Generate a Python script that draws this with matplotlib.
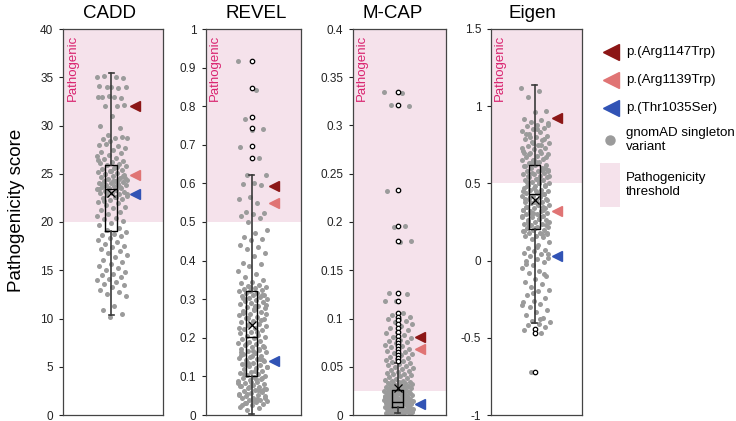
import numpy as np
import matplotlib
matplotlib.use('Agg')
import matplotlib.pyplot as plt
from matplotlib.patches import Rectangle
from matplotlib.ticker import FuncFormatter, MultipleLocator

plt.rcParams['font.family'] = ['Liberation Sans', 'DejaVu Sans']

# ---------------- data ----------------
panel_titles = ['CADD', 'REVEL', 'M-CAP', 'Eigen']
y_limits = [(0, 40), (0, 1), (0, 0.4), (-1, 1.5)]
tick_steps = [5, 0.1, 0.05, 0.5]
thresholds = [20, 0.5, 0.025, 0.5]

variant_labels = ['p.(Arg1147Trp)', 'p.(Arg1139Trp)', 'p.(Thr1035Ser)']
cadd_variants = [32.0, 24.9, 22.9]
revel_variants = [0.592, 0.548, 0.140]
mcap_variants = [0.081, 0.068, 0.011]
eigen_variants = [0.921, 0.323, 0.030]

cadd_scores = [
    35.0, 35.0, 35.1, 34.9, 34.0, 34.1, 33.9, 34.0, 34.0,
    33.0, 33.0, 32.9, 33.1, 33.0, 32.0, 32.0, 32.1, 31.0, 30.0, 29.7, 29.0,
    28.7, 28.7, 28.6, 28.8, 28.4, 28.0, 27.9, 28.1,
    27.7, 27.5, 27.3, 27.1, 26.9, 26.8, 26.6, 26.5, 26.3, 26.2, 26.1, 26.0, 25.9, 25.8,
    25.6, 25.5, 25.4, 25.3, 25.2, 25.1, 25.0, 24.9, 24.8, 24.7, 24.6, 24.5, 24.4, 24.3,
    24.2, 24.1, 24.0, 24.0, 23.9, 23.8, 23.8, 23.7, 23.6, 23.5, 23.5, 23.4, 23.3, 23.2,
    23.1, 23.0, 23.0, 22.9, 22.8, 22.7, 22.6, 22.5, 22.4, 22.3, 22.1, 22.0, 21.8, 21.6,
    21.4, 21.2, 21.0, 20.8, 20.6, 20.4, 20.3, 20.1, 19.9, 19.7, 19.4, 19.2, 19.0, 18.8,
    18.7, 18.5, 18.3, 18.1, 17.9, 17.7, 17.5, 17.4, 17.2, 17.0, 16.8, 16.6, 16.4, 16.1,
    15.9, 15.6, 15.4, 15.2, 15.0, 14.8, 14.6, 14.5, 14.3, 14.1, 14.0, 13.8, 13.6, 13.5,
    13.3, 13.0, 12.7, 12.5, 12.3, 11.3, 10.9, 10.5, 10.2,
    26.4, 25.7, 25.0, 24.6, 24.2, 23.9, 23.6, 23.2, 22.9, 22.6, 22.2, 24.8, 25.3, 23.4, 24.4,
]

revel_scores = [
    0.918, 0.843, 0.768, 0.740, 0.738, 0.695, 0.665, 0.622, 0.621, 0.602, 0.598, 0.595,
    0.565, 0.560, 0.548, 0.525, 0.524, 0.522, 0.515, 0.510, 0.500, 0.480, 0.472, 0.460,
    0.455, 0.453, 0.440, 0.435, 0.430, 0.420, 0.412, 0.395, 0.390, 0.385, 0.372, 0.365,
    0.358, 0.350, 0.345, 0.342, 0.338, 0.335, 0.332, 0.330, 0.327, 0.325, 0.322, 0.320,
    0.317, 0.315, 0.312, 0.310, 0.307, 0.305, 0.302, 0.300,
    0.298, 0.295, 0.292, 0.290, 0.287, 0.283, 0.280, 0.277, 0.273, 0.270, 0.266, 0.262,
    0.258, 0.255, 0.251, 0.248, 0.244, 0.240, 0.237, 0.233, 0.230, 0.226, 0.222, 0.219,
    0.215, 0.212, 0.208, 0.205, 0.202, 0.199, 0.196, 0.193, 0.190, 0.187, 0.184, 0.181,
    0.178, 0.175, 0.172, 0.169, 0.166, 0.163, 0.160, 0.157, 0.154, 0.151, 0.148, 0.145,
    0.142, 0.139, 0.136, 0.133, 0.130, 0.127, 0.124, 0.121, 0.118, 0.115, 0.112, 0.109,
    0.106, 0.103, 0.100, 0.098, 0.095, 0.093, 0.090, 0.088, 0.085, 0.083, 0.080, 0.078,
    0.075, 0.073, 0.070, 0.068, 0.065, 0.063, 0.060, 0.058, 0.055, 0.053, 0.050, 0.048,
    0.045, 0.043, 0.040, 0.038, 0.035, 0.033, 0.030, 0.028, 0.025, 0.022, 0.018, 0.014,
    0.285, 0.275, 0.265, 0.245, 0.235, 0.225, 0.215, 0.185, 0.175, 0.165, 0.155, 0.145,
    0.135, 0.125, 0.115, 0.105, 0.095, 0.085, 0.075, 0.065, 0.055, 0.045, 0.035, 0.025,
    0.062, 0.072, 0.082, 0.092, 0.132, 0.142, 0.152, 0.162, 0.172, 0.252, 0.262, 0.282,
    0.302, 0.312, 0.332, 0.052, 0.042, 0.032, 0.067, 0.077,
]

mcap_scores = [
    0.335, 0.334, 0.321, 0.320, 0.233, 0.232, 0.196, 0.195, 0.180, 0.179, 0.126, 0.125,
    0.118, 0.118, 0.106, 0.104, 0.102, 0.100, 0.099, 0.097, 0.096, 0.094, 0.092, 0.090,
    0.088, 0.086, 0.085, 0.083, 0.081, 0.080, 0.078, 0.077, 0.076, 0.075, 0.073, 0.071,
    0.070, 0.068, 0.067, 0.066, 0.065, 0.064, 0.063, 0.062, 0.060, 0.059, 0.058, 0.057,
    0.056, 0.055, 0.054, 0.053, 0.052, 0.051, 0.050, 0.049, 0.048, 0.047, 0.046, 0.045,
    0.044, 0.043, 0.042, 0.041, 0.040, 0.039, 0.038, 0.037, 0.036, 0.035, 0.035, 0.034,
    0.034, 0.033, 0.033, 0.032, 0.032, 0.031, 0.031, 0.030, 0.030, 0.029, 0.029, 0.028,
    0.028, 0.027, 0.027, 0.026, 0.026, 0.025, 0.025, 0.024, 0.024, 0.023, 0.023, 0.022,
    0.022, 0.021, 0.021, 0.020, 0.020, 0.019, 0.019, 0.018, 0.018, 0.017, 0.017, 0.016,
    0.016, 0.015, 0.015, 0.014, 0.014, 0.013, 0.013, 0.012, 0.012, 0.011, 0.011, 0.010,
    0.010, 0.009, 0.009, 0.008, 0.008, 0.007, 0.007, 0.006, 0.006, 0.005, 0.005, 0.004,
    0.004, 0.003, 0.003, 0.002, 0.002, 0.001, 0.001,
    0.0015, 0.0025, 0.0035, 0.0045, 0.0055, 0.0065, 0.0075, 0.0085, 0.0095, 0.0105,
    0.0115, 0.0125, 0.0135, 0.0145, 0.0155, 0.0165, 0.0175, 0.0185, 0.0195, 0.0205,
    0.0215, 0.0225, 0.0235, 0.0245, 0.0255, 0.0265, 0.003, 0.005, 0.007, 0.009, 0.011,
    0.013, 0.002, 0.004, 0.006, 0.008, 0.010, 0.012, 0.014, 0.016,
]

eigen_scores = [
    1.12, 1.10, 1.06, 0.97, 0.96, 0.92, 0.91, 0.90, 0.89, 0.88, 0.87, 0.86, 0.85, 0.84,
    0.83, 0.82, 0.81, 0.80, 0.79, 0.78, 0.77, 0.76, 0.75, 0.74, 0.73, 0.72, 0.71, 0.70,
    0.70, 0.69, 0.68, 0.67, 0.66, 0.65, 0.65, 0.64, 0.63, 0.62, 0.62, 0.61, 0.60, 0.60,
    0.59, 0.58, 0.58, 0.57, 0.56, 0.56, 0.55, 0.54, 0.54, 0.53, 0.52, 0.52, 0.51, 0.50,
    0.50, 0.49, 0.48, 0.48, 0.47, 0.46, 0.46, 0.45, 0.44, 0.44, 0.43, 0.42, 0.42, 0.41,
    0.40, 0.40, 0.39, 0.38, 0.38, 0.37, 0.36, 0.36, 0.35, 0.34, 0.34, 0.33, 0.32, 0.32,
    0.31, 0.30, 0.30, 0.29, 0.28, 0.28, 0.27, 0.26, 0.26, 0.25, 0.24, 0.24, 0.23, 0.22,
    0.22, 0.21, 0.20, 0.20, 0.19, 0.18, 0.18, 0.17, 0.16, 0.16, 0.15, 0.14, 0.12, 0.10,
    0.08, 0.07, 0.06, 0.05, 0.04, 0.03, 0.02, 0.01, 0.00, -0.01, -0.03, -0.05, -0.07,
    -0.08, -0.10, -0.12, -0.14, -0.15, -0.17, -0.19, -0.20, -0.22, -0.24, -0.26, -0.27,
    -0.28, -0.30, -0.32, -0.33, -0.35, -0.37, -0.39, -0.40, -0.41, -0.42, -0.43, -0.44,
    -0.45, -0.47, -0.72,
    0.88, 0.85, 0.82, 0.79, 0.76, 0.73, 0.71, 0.69, 0.67, 0.64, 0.61, 0.59, 0.57, 0.55,
    0.53, 0.51, 0.49, 0.47, 0.45, 0.43, 0.41, 0.39, 0.37, 0.35, 0.33, 0.31, 0.29, 0.27,
    0.25, 0.23, 0.21, 0.19, 0.17, 0.63, 0.58, 0.53, 0.48, 0.43, 0.38, 0.33, 0.28, 0.23,
    0.18, 0.45, 0.40, 0.35, 0.30, 0.25, 0.50, 0.55, 0.60, 0.65, 0.70, 0.75, 0.80, 0.04,
    0.09, -0.02, -0.09, -0.21, -0.29, -0.38,
]

# box-plot statistics
box_q1 = [19.1, 0.102, 0.0086, 0.202]
box_median = [23.4, 0.201, 0.0135, 0.429]
box_q3 = [25.9, 0.322, 0.026, 0.619]
box_mean = [23.0, 0.233, 0.028, 0.392]
whisker_low = [10.35, 0.003, 0.002, -0.407]
whisker_high = [35.4, 0.623, 0.054, 1.137]
cadd_outliers = []
revel_outliers = [0.667, 0.698, 0.744, 0.771, 0.846, 0.918]
mcap_outliers = [0.335, 0.321, 0.233, 0.196, 0.180, 0.126, 0.118, 0.106, 0.102, 0.098,
                 0.094, 0.090, 0.086, 0.082, 0.078, 0.075, 0.072, 0.068, 0.065, 0.062,
                 0.059, 0.056]
eigen_outliers = [-0.44, -0.47, -0.72]

all_scores = [cadd_scores, revel_scores, mcap_scores, eigen_scores]
all_variants = [cadd_variants, revel_variants, mcap_variants, eigen_variants]
all_outliers = [cadd_outliers, revel_outliers, mcap_outliers, eigen_outliers]

# ---------------- style ----------------
W, H = 736, 421
variant_colors = ['#8c1616', '#e07474', '#3153b5']
point_color = '#9b9b9b'
pink = '#f5e2eb'
path_text_color = '#d9236f'
axes_px = [(63, 100), (206, 95), (353, 93), (491, 91)]  # left, width in px
title_x = [0.47, 0.53, 0.43, 0.46]
ax_top, ax_bottom = 29, 415
box_x, cloud_x, cloud_half, tri_x = 0.48, 0.49, 0.155, 0.72

fig = plt.figure(figsize=(W / 100, H / 100), dpi=100)

for i in range(4):
    left, width = axes_px[i]
    ax = fig.add_axes([left / W, 1 - ax_bottom / H, width / W, (ax_bottom - ax_top) / H])
    lo, hi = y_limits[i]
    ax.set_xlim(0, 1)
    ax.set_ylim(lo, hi)
    ax.axhspan(thresholds[i], hi, color=pink, lw=0, zorder=0)

    vals = np.array(all_scores[i])
    idx = np.arange(len(vals))
    xs = cloud_x + (((idx * 0.6180339887) % 1.0) - 0.5) * 2 * cloud_half
    ax.scatter(xs, vals, s=13, color=point_color, lw=0, zorder=2)

    stats = [dict(q1=box_q1[i], med=box_median[i], q3=box_q3[i], mean=box_mean[i],
                  whislo=whisker_low[i], whishi=whisker_high[i], fliers=all_outliers[i])]
    ax.bxp(stats, positions=[box_x], widths=0.115, capwidths=0.05, showmeans=True,
           patch_artist=False, manage_ticks=False,
           boxprops=dict(color='black', lw=1.0),
           whiskerprops=dict(color='#3a3a3a', lw=1.2),
           capprops=dict(color='#3a3a3a', lw=1.2),
           medianprops=dict(color='black', lw=1.0),
           meanprops=dict(marker='x', markeredgecolor='black', markersize=5.5, mew=0.9),
           flierprops=dict(marker='o', markerfacecolor='white', markeredgecolor='black',
                           markersize=3.2, mew=0.9),
           zorder=3)

    for v, c in zip(all_variants[i], variant_colors):
        ax.plot([tri_x], [v], marker='<', color=c, markersize=7.5, lw=0, zorder=4)

    ax.text(0.035, 0.985, 'Pathogenic', transform=ax.transAxes, rotation=90,
            ha='left', va='top', color=path_text_color, fontsize=9.5)

    ax.set_title(panel_titles[i], fontsize=13.5, pad=8, x=title_x[i])
    ax.yaxis.set_major_locator(MultipleLocator(tick_steps[i]))
    ax.yaxis.set_major_formatter(FuncFormatter(lambda v, p: f'{round(v, 4):g}'))
    ax.tick_params(axis='y', labelsize=8.5, length=3, width=0.8, pad=4, colors='#222222')
    ax.set_xticks([])
    for sp in ax.spines.values():
        sp.set_color('#444444')
        sp.set_linewidth(0.9)

fig.text(17 / W, 0.5, 'Pathogenicity score', rotation=90, ha='center', va='center',
         fontsize=13.5)

# ---------------- legend ----------------
lg = fig.add_axes([0, 0, 1, 1], zorder=-1)
lg.set_xlim(0, W)
lg.set_ylim(H, 0)
lg.axis('off')
leg_fs = 9.6
row_y = [52, 80, 108]
for lab, c, y in zip(variant_labels, variant_colors, row_y):
    lg.plot([611], [y], marker='<', color=c, markersize=11, lw=0)
    lg.text(626, y, lab, ha='left', va='center', fontsize=leg_fs)
lg.plot([610], [140], marker='o', color=point_color, markersize=6.5, lw=0)
lg.text(626, 140, 'gnomAD singleton\nvariant', ha='left', va='center', fontsize=leg_fs,
        linespacing=1.3)
lg.add_patch(Rectangle((600, 163), 20, 44, color=pink, lw=0))
lg.text(626, 185, 'Pathogenicity\nthreshold', ha='left', va='center', fontsize=leg_fs,
        linespacing=1.3)

fig.savefig('out.png', dpi=100)
